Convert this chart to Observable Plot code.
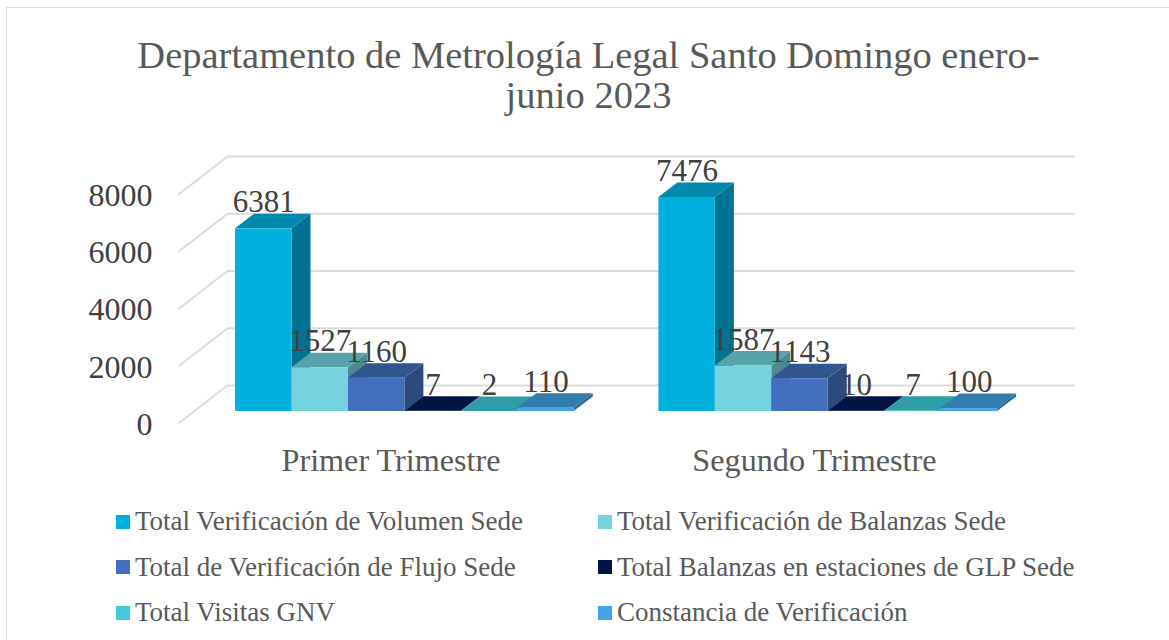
<!DOCTYPE html>
<html>
<head>
<meta charset="utf-8">
<script src="https://cdn.jsdelivr.net/npm/d3@7"></script>
<script src="https://cdn.jsdelivr.net/npm/@observablehq/plot@0.6"></script>
<style>
  html, body { margin: 0; padding: 0; background: #fff; overflow: hidden; }
  body { width: 1169px; height: 640px; position: relative; font-family: "Liberation Serif", serif; }
  #card { position: absolute; left: 6px; top: 7px; width: 1200px; height: 700px; border: 1.5px solid #D9D9D9; box-sizing: border-box; }
  #title { position: absolute; left: 0; top: 35px; width: 1169px; padding: 0 120px 0 128px; box-sizing: border-box; text-align: center; font-size: 38.5px; line-height: 40px; color: #595959; height: 90px; }
  #chart { position: absolute; left: 0; top: 125px; }
  #chart svg { display: block; }
  #legend { position: absolute; left: 116px; top: 499px; display: grid; grid-template-columns: 482px 482px; grid-auto-rows: 45.5px; font-size: 27px; color: #595959; }
  .item { display: flex; align-items: center; white-space: nowrap; }
  .sw { width: 14px; height: 14px; margin-right: 5px; flex: none; }
</style>
</head>
<body>
<div id="card"></div>
<div id="title">Departamento de Metrología Legal Santo Domingo enero-junio 2023</div>
<div id="chart"></div>
<div id="legend"></div>
<script>
const categories = ["Primer Trimestre", "Segundo Trimestre"];
const seriesNames = [
  "Total Verificación de Volumen Sede",
  "Total Verificación de Balanzas Sede",
  "Total de Verificación de Flujo Sede",
  "Total Balanzas en estaciones de GLP Sede",
  "Total Visitas GNV",
  "Constancia de Verificación"
];
const volumen = [6381, 7476];
const balanzas = [1527, 1587];
const flujo = [1160, 1143];
const glp = [7, 10];
const gnv = [2, 7];
const constancia = [110, 100];
const seriesValues = [volumen, balanzas, flujo, glp, gnv, constancia];
const yTicks = [0, 2000, 4000, 6000, 8000];

const frontColors = ["#00B0DF", "#74D3DD", "#436FBF", "#001543", "#3ECCDA", "#41A5E8"];
const topColors   = ["#0088AD", "#58A2A9", "#30558F", "#001543", "#2F9DA6", "#337DAE"];
const sideColors  = ["#007393", "#4D8A90", "#2C4A7E", "#001238", "#2A8A92", "#2C6A94"];

// Oblique projection, in data units (bar widths, chart values)
const groupStep = 7.5, depthX = 0.337, depthY = 507;
const backX = -0.142, backY = 909, frontX = -1.01, frontY = -420, rightX = 14.88;

const bars = categories.flatMap((c, g) => seriesNames.map((s, i) => ({
  id: `${g}-${i}`, x: g * groupStep + i, v: seriesValues[i][g], i
})));
const sidePts = bars.flatMap(b => [
  {id: b.id, x: b.x + 1, y1: 0, y2: b.v, fill: sideColors[b.i]},
  {id: b.id, x: b.x + 1 + depthX, y1: depthY, y2: b.v + depthY, fill: sideColors[b.i]}
]);
const topPts = bars.flatMap(b => [
  {id: b.id, y: b.v, x1: b.x, x2: b.x + 1, fill: topColors[b.i]},
  {id: b.id, y: b.v + depthY, x1: b.x + depthX, x2: b.x + 1 + depthX, fill: topColors[b.i]}
]);

const grey = "#DCDCDC";
const plot = Plot.plot({
  width: 1169, height: 365,
  marginLeft: 178, marginRight: 94, marginTop: 31, marginBottom: 67,
  x: {domain: [frontX, rightX], axis: null},
  y: {domain: [frontY, 8000 + backY], axis: null},
  color: {type: "identity"},
  style: {background: "transparent", fontFamily: "'Liberation Serif', serif", overflow: "visible"},
  marks: [
    Plot.ruleY(yTicks, {y: d => d + backY, x1: backX, x2: rightX, stroke: grey, strokeWidth: 2}),
    Plot.link(yTicks, {x1: frontX, y1: d => d + frontY, x2: backX, y2: d => d + backY, stroke: grey, strokeWidth: 2}),
    Plot.areaY(sidePts, {x: "x", y1: "y1", y2: "y2", z: "id", fill: "fill"}),
    Plot.areaX(topPts, {y: "y", x1: "x1", x2: "x2", z: "id", fill: "fill"}),
    Plot.rect(bars, {x1: "x", x2: d => d.x + 1, y1: 0, y2: "v", fill: d => frontColors[d.i]}),
    Plot.text(yTicks, {x: -1.47, y: d => d + frontY, text: d => String(d), textAnchor: "end", fontSize: 32, fill: "#404040", dy: 1}),
    Plot.text(bars, {x: d => d.x + 0.5, y: d => d.v + 920, text: d => String(d.v), fontSize: 31, fill: "#404040"}),
    Plot.text(categories, {x: (d, g) => g * groupStep + 2.755, y: -1713, text: d => d, fontSize: 32.2, fill: "#595959"})
  ]
});
document.getElementById("chart").appendChild(plot);

const legend = document.getElementById("legend");
seriesNames.forEach((name, i) => {
  const item = document.createElement("div");
  item.className = "item";
  const sw = document.createElement("span");
  sw.className = "sw";
  sw.style.background = frontColors[i];
  const label = document.createElement("span");
  label.textContent = name;
  item.append(sw, label);
  legend.appendChild(item);
});
</script>
</body>
</html>
